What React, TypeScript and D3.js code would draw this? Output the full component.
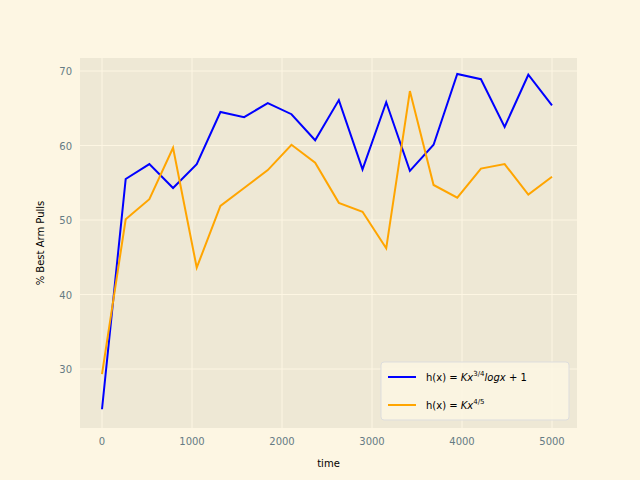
import * as d3 from 'd3';
import React from 'react';

const times = d3.range(20).map((i) => (i * 5000) / 19);
const blueValues = [24.6, 55.5, 57.5, 54.3, 57.5, 64.5, 63.8, 65.7, 64.2, 60.7, 66.1, 56.8, 65.8, 56.6, 60.1, 69.6, 68.9, 62.5, 69.5, 65.4];
const orangeValues = [29.3, 50.1, 52.8, 59.7, 43.6, 51.9, 54.3, 56.7, 60.1, 57.7, 52.3, 51.1, 46.2, 67.3, 54.7, 53.0, 56.9, 57.5, 53.4, 55.8];
const xTicks = [0, 1000, 2000, 3000, 4000, 5000];
const yTicks = [30, 40, 50, 60, 70];

const margin = { left: 80, top: 58, right: 63, bottom: 52 };
const W = 640;
const H = 480;

const App = () => {
   const x = d3.scaleLinear().domain([0, 5000]).range([102, 552]);
   const y = d3.scaleLinear().domain([30, 70]).range([369, 71]);
   const line = (vals: number[]) =>
      d3.line<number>().x((_, i) => x(times[i])).y((v) => y(v))(vals) ?? '';
   const font = 'DejaVu Sans, sans-serif';
   const iw = W - margin.left - margin.right;
   const ih = H - margin.top - margin.bottom;
   return (
      <svg width={W} height={H} style={{ position: 'absolute', left: 0, top: 0 }} fontFamily={font}>
         <rect width={W} height={H} fill="#fdf6e3" />
         <rect x={margin.left} y={margin.top} width={iw} height={ih} fill="#eee8d5" />
         {xTicks.map((t) => (
            <g key={'x' + t}>
               <line x1={x(t)} x2={x(t)} y1={margin.top} y2={margin.top + ih} stroke="#fdf6e3" />
               <text x={x(t)} y={margin.top + ih + 17} fontSize={10} fill="#657b83" textAnchor="middle">{t}</text>
            </g>
         ))}
         {yTicks.map((t) => (
            <g key={'y' + t}>
               <line x1={margin.left} x2={margin.left + iw} y1={y(t)} y2={y(t)} stroke="#fdf6e3" />
               <text x={margin.left - 8} y={y(t) + 4} fontSize={10} fill="#657b83" textAnchor="end">{t}</text>
            </g>
         ))}
         <path d={line(blueValues)} fill="none" stroke="blue" strokeWidth={2} />
         <path d={line(orangeValues)} fill="none" stroke="orange" strokeWidth={2} />
         <text x={margin.left + iw / 2} y={467} fontSize={10} textAnchor="middle">time</text>
         <text transform={`translate(44,${margin.top + ih / 2}) rotate(-90)`} fontSize={10} textAnchor="middle">% Best Arm Pulls</text>
         <rect x={381} y={362} width={188} height={58} rx={3} fill="#fdf6e3" fillOpacity={0.8} stroke="#ddd" />
         <line x1={388} x2={416} y1={377} y2={377} stroke="blue" strokeWidth={2} />
         <text x={426} y={381} fontSize={10}>
            h(x) = <tspan fontStyle="italic">Kx</tspan><tspan dy={-5} fontSize={7}>3/4</tspan>
            <tspan dy={5} fontStyle="italic">logx</tspan> + 1
         </text>
         <line x1={388} x2={416} y1={405} y2={405} stroke="orange" strokeWidth={2} />
         <text x={426} y={409} fontSize={10}>
            h(x) = <tspan fontStyle="italic">Kx</tspan><tspan dy={-5} fontSize={7}>4/5</tspan>
         </text>
      </svg>
   );
};

export default App;
